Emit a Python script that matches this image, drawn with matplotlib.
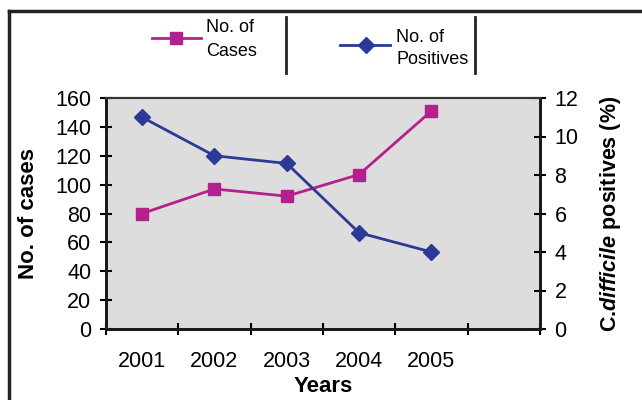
import matplotlib.pyplot as plt
from matplotlib.lines import Line2D

plt.rcParams['font.family'] = 'Liberation Sans'
plt.rcParams['mathtext.fontset'] = 'custom'
plt.rcParams['mathtext.rm'] = 'Liberation Sans:bold'
plt.rcParams['mathtext.it'] = 'Liberation Sans:italic:bold'

# data
years = ['2001', '2002', '2003', '2004', '2005']
cases = [80, 97, 92, 107, 151]
positives = [11.0, 9.0, 8.6, 5.0, 4.0]

magenta = '#B5208F'
navy = '#2B3A96'

fig = plt.figure(figsize=(6.42, 4.0), dpi=100)
ax = fig.add_axes([0.165, 0.1775, 0.676, 0.5775])
ax.set_facecolor('#DDDDDD')

xpos = [i + 0.5 for i in range(len(years))]

ax.plot(xpos, cases, color=magenta, lw=2, marker='s', ms=9,
        markeredgecolor=magenta, zorder=3)
ax.set_xlim(0, 6)
ax.set_ylim(0, 160)
ax.set_yticks(range(0, 161, 20))

ax2 = ax.twinx()
ax2.plot(xpos, positives, color=navy, lw=2, marker='D', ms=8,
         markeredgecolor=navy, zorder=3)
ax2.set_ylim(0, 12)
ax2.set_yticks(range(0, 13, 2))

# category boundaries as ticks, labels centred between them
ax.set_xticks(range(0, 7))
ax.set_xticklabels([])
ax.set_xticks(xpos, minor=True)
ax.set_xticklabels(years, minor=True)
ax.tick_params(axis='x', which='minor', length=0, pad=16, labelsize=15.5)
ax.tick_params(axis='x', which='major', direction='inout', length=8, width=1.5)
ax.tick_params(axis='y', direction='inout', length=9, width=1.5, labelsize=15.5, pad=6)
ax2.tick_params(axis='y', direction='inout', length=9, width=1.5, labelsize=15.5, pad=6)

for a in (ax, ax2):
    for side in ('left', 'right', 'bottom'):
        a.spines[side].set_linewidth(2)
        a.spines[side].set_color('#1a1a1a')
    a.spines['top'].set_linewidth(1.5)
    a.spines['top'].set_color('#333333')

ax.set_ylabel('No. of cases', fontsize=16, fontweight='bold', labelpad=12)
ax2.set_ylabel(r'C.$\it{difficile}$ positives (%)', fontsize=15.5,
               fontweight='bold', labelpad=14)
ax.set_xlabel('Years', fontsize=16, fontweight='bold', labelpad=3)


def fx(px):
    return px / 642


def fy(py):
    return 1 - py / 400


# legend drawn by hand with separators
fig.add_artist(Line2D([fx(152), fx(201)], [fy(38), fy(38)], color=magenta, lw=2))
fig.add_artist(Line2D([fx(176)], [fy(38)], color=magenta, marker='s', ms=9, lw=0))
fig.text(fx(206), fy(27), 'No. of', fontsize=13, va='center', ha='left')
fig.text(fx(206), fy(52), 'Cases', fontsize=13, va='center', ha='left')
fig.add_artist(Line2D([fx(286), fx(286)], [fy(17), fy(73)], color='#222222', lw=2))

fig.add_artist(Line2D([fx(340), fx(390)], [fy(45), fy(45)], color=navy, lw=2))
fig.add_artist(Line2D([fx(366)], [fy(45)], color=navy, marker='D', ms=8, lw=0))
fig.text(fx(396), fy(38), 'No. of', fontsize=13, va='center', ha='left')
fig.text(fx(396), fy(60), 'Positives', fontsize=13, va='center', ha='left')
fig.add_artist(Line2D([fx(475), fx(475)], [fy(17), fy(73)], color='#222222', lw=2))

# outer frame lines
fig.add_artist(Line2D([fx(9), 1], [fy(11), fy(11)], color='#222222', lw=2.5))
fig.add_artist(Line2D([fx(9), fx(9)], [fy(11), 0], color='#222222', lw=2.5))

fig.savefig('out.png', dpi=100)
